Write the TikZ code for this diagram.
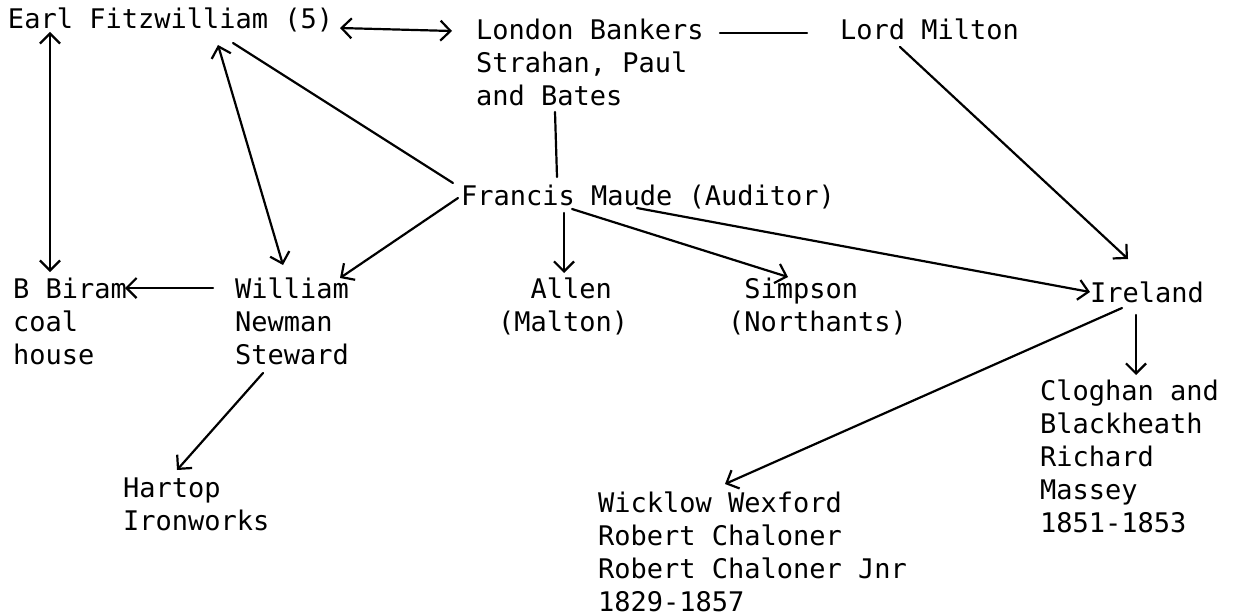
\documentclass[tikz,border=0pt]{standalone}
\usepackage{fontspec}
\newfontfamily\tw{DejaVu Sans Mono}
\usetikzlibrary{arrows.meta}
\tikzset{
  lbl/.style={anchor=base west, inner sep=0pt, outer sep=0pt, align=left,
              font=\tw\fontsize{27}{33}\selectfont},
  con/.style={line width=2.2pt, line cap=round, line join=round},
  >={Straight Barb[length=10pt,width=20pt]}
}
\begin{document}
\begin{tikzpicture}[x=1pt,y=1pt]
\useasboundingbox[fill=white] (0,0) rectangle (1238,-615);
% nodes (base west = baseline of the last line)
\node[lbl] (earl) at (8,-29) {Earl Fitzwilliam (5)};
\node[lbl] (bankers) at (476,-106) {London Bankers\\Strahan, Paul\\and Bates};
\node[lbl] (milton) at (840,-40) {Lord Milton};
\node[lbl] (maude) at (461,-205) {Francis Maude (Auditor)};
\node[lbl] (biram) at (13,-364) {B Biram\\coal\\house};
\node[lbl] (william) at (235,-364) {William\\Newman\\Steward};
\node[lbl] (allen) at (498,-331) {\phantom{xx}Allen\\(Malton)};
\node[lbl] (simpson) at (728,-331) {\phantom{x}Simpson\\(Northants)};
\node[lbl] (ireland) at (1090,-302) {Ireland};
\node[lbl] (hartop) at (123,-530) {Hartop\\Ironworks};
\node[lbl] (cloghan) at (1040,-532) {Cloghan and\\Blackheath\\Richard\\Massey\\1851-1853};
\node[lbl] (wicklow) at (598,-611) {Wicklow Wexford\\Robert Chaloner\\Robert Chaloner Jnr\\1829-1857};
% connectors
\draw[con,<->] ([shift={(332,1)}]earl.base west) -- ([shift={(-24,75)}]bankers.base west);
\draw[con] ([shift={(244,73)}]bankers.base west) -- ([shift={(-33,7)}]milton.base west);
\draw[con,<->] ([shift={(42,-3)}]earl.base west) -- ([shift={(37,92)}]biram.base west);
\draw[con,<->] ([shift={(210,-16)}]earl.base west) -- ([shift={(48,99)}]william.base west);
\draw[con] ([shift={(225,-14)}]earl.base west) -- ([shift={(-8,22)}]maude.base west);
\draw[con,->] ([shift={(-3,7)}]maude.base west) -- ([shift={(105,86)}]william.base west);
\draw[con] ([shift={(79,-6)}]bankers.base west) -- ([shift={(96,28)}]maude.base west);
\draw[con,->] ([shift={(60,-7)}]milton.base west) -- ([shift={(38,43)}]ireland.base west);
\draw[con,->] ([shift={(-22,76)}]william.base west) -- ([shift={(112,76)}]biram.base west);
\draw[con,->] ([shift={(103,-8)}]maude.base west) -- ([shift={(66,58)}]allen.base west);
\draw[con,->] ([shift={(111,-4)}]maude.base west) -- ([shift={(60,54)}]simpson.base west);
\draw[con,->] ([shift={(176,-3)}]maude.base west) -- ([shift={(0,10)}]ireland.base west);
\draw[con,->] ([shift={(46,-13)}]ireland.base west) -- ([shift={(96,157)}]cloghan.base west);
\draw[con,->] ([shift={(32,-6)}]ireland.base west) -- ([shift={(127,127)}]wicklow.base west);
\draw[con,->] ([shift={(28,-9)}]william.base west) -- ([shift={(54,60)}]hartop.base west);
\end{tikzpicture}
\end{document}
